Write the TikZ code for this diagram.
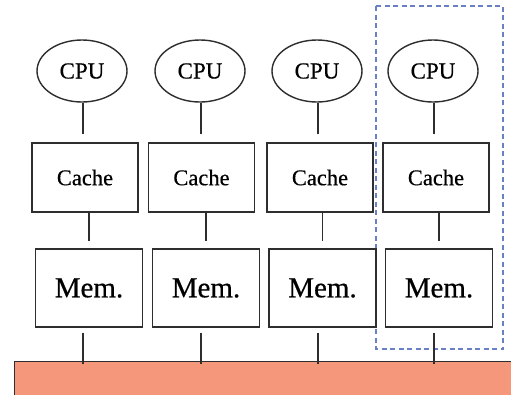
\documentclass[tikz,border=0pt]{standalone}
\usepackage{fontspec}
\setmainfont{Liberation Serif}
\newfontfamily\labelfont{Liberation Serif}[BoldFont=Liberation Serif,BoldFeatures={FakeBold=0.5}]
\usetikzlibrary{shapes.geometric,calc}
\definecolor{busfill}{HTML}{F4977A}
\definecolor{groupline}{HTML}{6A80C4}
\definecolor{inkline}{HTML}{2E2E2E}
\tikzset{
  cpunode/.style={ellipse,draw=inkline,line width=1.4pt,fill=white,inner sep=0pt,
    minimum width=90pt,minimum height=62pt,font=\labelfont\bfseries\fontsize{23}{26}\selectfont},
  cachenode/.style={rectangle,draw=inkline,line width=1.3pt,fill=white,inner sep=0pt,
    minimum width=106pt,minimum height=69pt,font=\labelfont\bfseries\fontsize{22.5}{26}\selectfont},
  memnode/.style={rectangle,draw=inkline,line width=1.3pt,fill=white,inner sep=0pt,
    minimum width=107pt,minimum height=78pt,font=\labelfont\bfseries\fontsize{29}{32}\selectfont},
  link/.style={draw=inkline,line width=1.3pt},
}
\begin{document}
\begin{tikzpicture}[x=1pt,y=-1pt]
  \useasboundingbox (0,0) rectangle (511,394);
  \clip (0,0) rectangle (511,394);
  \fill[white] (0,0) rectangle (511,394);

  % shared bus along the bottom
  \node[rectangle,draw=inkline,line width=1.3pt,fill=busfill,anchor=north west,
        minimum width=520pt,minimum height=60pt,inner sep=0pt] (bar) at (14,361) {};

  % dashed outline grouping the last column
  \draw[groupline,line width=1.1pt,dash pattern=on 5pt off 3.5pt] (376,6) rectangle (503,349);

  % processors
  \node[cpunode] (cpu1) at (82,71)  {CPU};
  \node[cpunode] (cpu2) at (200,71) {CPU};
  \node[cpunode] (cpu3) at (317,71) {CPU};
  \node[cpunode] (cpu4) at (433,71) {CPU};

  % caches
  \node[cachenode] (cache1) at (85,177.5)  {Cache};
  \node[cachenode] (cache2) at (201.5,177.5) {Cache};
  \node[cachenode] (cache3) at (320,177.5) {Cache};
  \node[cachenode] (cache4) at (436,177.5) {Cache};

  % memories
  \node[memnode] (mem1) at (89,288)  {Mem.};
  \node[memnode] (mem2) at (206,288) {Mem.};
  \node[memnode] (mem3) at (322.5,288) {Mem.};
  \node[memnode] (mem4) at (439,288) {Mem.};

  % connectors
  \foreach \i/\dx in {1/1,2/1,3/1,4/1}{
    \draw[link] ($(cpu\i.south)+(\dx,0)$) -- ($(cache\i.north -| cpu\i.south)+(\dx,-8)$);
    \draw[link] ($(cache\i.south -| mem\i.north)+(0,-2)$) -- ($(mem\i.north)+(0,-7)$);
    \draw[link] ($(mem\i.south -| cpu\i.south)+(\dx,5)$) -- ($(bar.north -| cpu\i.south)+(\dx,3)$);
  }
\end{tikzpicture}
\end{document}
